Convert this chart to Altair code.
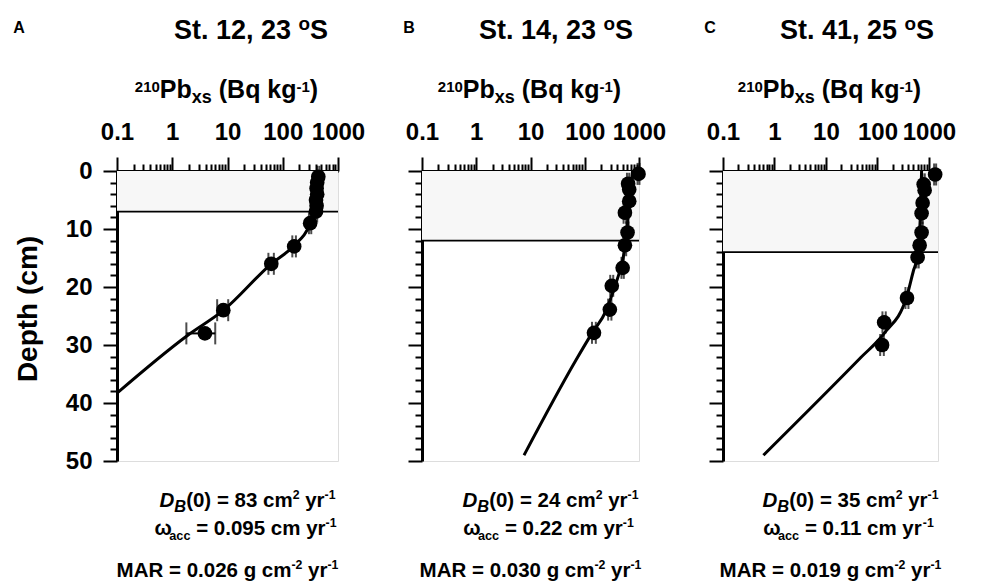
import altair as alt
import pandas as pd

# ---------------- data ----------------
# Panel A: St. 12, 23 oS
A_depth = [1, 2, 3, 4, 5, 6, 7, 9, 13, 16, 24, 28]
A_pb = [440, 420, 410, 420, 400, 410, 400, 313, 161, 62, 8.4, 3.9]
A_err = [20, 20, 20, 20, 20, 20, 20, 15, 12, 7, 1.9, 2.1]
A_line_depth = [38.3, 28.4, 24.0, 16.0, 12.9, 8.9, 5.0, 0.0]
A_line_pb = [0.1, 1.86, 8.5, 62, 158, 316, 380, 405]
A_mix = 7

# Panel B: St. 14, 23 oS
B_depth = [0.5, 2.2, 3.2, 5.2, 7.2, 10.6, 12.8, 16.7, 19.8, 23.9, 27.9]
B_pb = [980, 630, 660, 660, 550, 615, 550, 500, 315, 290, 148]
B_err = [40, 30, 30, 30, 30, 30, 30, 25, 20, 20, 12]
B_line_depth = [49.0, 32.6, 28.0, 24.0, 20.0, 16.0, 12.0, 8.0, 4.0, 0.0]
B_line_pb = [7.6, 69, 135, 250, 355, 480, 575, 630, 690, 760]
B_mix = 12

# Panel C: St. 41, 25 oS
C_depth = [0.6, 2.3, 3.3, 5.5, 7.3, 10.6, 12.8, 14.9, 21.9, 26.1, 30.0]
C_pb = [1320, 790, 825, 754, 720, 720, 660, 603, 375, 135, 123]
C_err = [60, 40, 40, 35, 35, 35, 30, 30, 25, 10, 10]
C_line_depth = [49.0, 32.2, 28.1, 21.6, 17.2, 14.9, 8.0, 0.0]
C_line_pb = [0.61, 47, 132, 372, 500, 590, 680, 720]
C_mix = 14

titles = ["St. 12, 23 ", "St. 14, 23 ", "St. 41, 25 "]
letters = ["A", "B", "C"]
DB_vals = ["83", "24", "35"]
w_vals = ["0.095", "0.22", "0.11"]
MAR_vals = ["0.026", "0.030", "0.019"]

# ---------------- helpers ----------------
FONT = "Liberation Sans"

W = {' ': 278, '(': 333, ')': 333, '-': 333, '.': 278, ',': 278, '=': 584,
     'A': 722, 'B': 722, 'C': 722, 'D': 722, 'M': 833, 'P': 667, 'R': 722, 'S': 667,
     'a': 556, 'b': 611, 'c': 556, 'g': 611, 'k': 556, 'm': 889, 'o': 611, 'q': 611,
     'r': 389, 's': 556, 't': 333, 'x': 556, 'y': 556, 'ω': 720}
for d in "0123456789":
    W[d] = 556

SCALE = {"n": 1.0, "it": 1.0, "sup": 0.6, "sub": 0.62, "itsub": 0.8,
         "asup": 0.6, "asub": 0.72, "tsup": 0.7}
SHIFT = {"n": 0, "it": 0, "sup": -0.38, "sub": 0.24, "itsub": 0.22,
         "asup": -0.25, "asub": 0.2, "tsup": -0.3}


def tw(t, fs):
    return sum(W.get(c, 556) for c in t) / 1000.0 * fs


def rich(segs, cx, base, size, grp):
    """segs: list of (text, role)."""
    meas = [(size * SCALE[r], tw(t, size * SCALE[r])) for t, r in segs]
    total = sum(w for _, w in meas)
    x = cx - total / 2.0
    rows = []
    for (t, r), (fs, w) in zip(segs, meas):
        lead = len(t) - len(t.lstrip(" "))
        rows.append({"px": x + tw(" " * lead, fs), "py": base + SHIFT[r] * size,
                     "txt": t.strip(" "), "fs": fs,
                     "grp": grp + ("_it" if r.startswith("it") else "")})
        x += w
    return rows


def text_layers(rows):
    df = pd.DataFrame(rows)
    layers = []
    for g, sub in df.groupby("grp"):
        style = "italic" if g.endswith("_it") else "normal"
        layers.append(
            alt.Chart(sub).mark_text(align="left", baseline="alphabetic", font=FONT,
                                     fontWeight="bold", fontStyle=style, color="black")
            .encode(x=alt.X("px:Q", scale=None), y=alt.Y("py:Q", scale=None),
                    text="txt:N", size=alt.Size("fs:Q", scale=None, legend=None))
        )
    return layers


major_x = "abs(log(datum.value)/LN10 - round(log(datum.value)/LN10)) < 0.001"
xticks = []
for e in [-1, 0, 1, 2]:
    for m in range(1, 10):
        xticks.append(float(f"{m}e{e}"))
xticks.append(1000.0)


def panel(i, depth, pb, err, ldepth, lpb, mix, xmax, width, height, show_y):
    pts = pd.DataFrame({"depth": depth, "pb": pb,
                        "lo": [p - e for p, e in zip(pb, err)],
                        "hi": [p + e for p, e in zip(pb, err)]})
    line = pd.DataFrame({"depth": ldepth, "pb": lpb})
    mixdf = pd.DataFrame({"top": [0], "mix": [mix]})

    xs = alt.Scale(type="log", domain=[0.1, xmax], nice=False)
    ys = alt.Scale(domain=[0, 50], reverse=True, nice=False)
    xaxis = alt.Axis(orient="top", values=xticks, title=None, grid=False,
                     labelExpr=f"{major_x} ? (datum.value < 1 ? '0.1' : format(datum.value, 'd')) : ''",
                     tickSize={"condition": {"test": major_x, "value": 14}, "value": 7},
                     tickWidth=2, tickColor="black", domainWidth=3, domainColor="black",
                     labelFont=FONT, labelFontWeight="bold", labelFontSize=24,
                     labelColor="black", labelPadding=13, labelOverlap=False, labelFlush=False)
    yaxis = alt.Axis(orient="left", values=list(range(0, 51, 2)), title=None, grid=False,
                     labels=show_y,
                     labelExpr="datum.value % 10 == 0 ? datum.label : ''",
                     tickSize={"condition": {"test": "datum.value % 10 == 0", "value": 14}, "value": 7},
                     tickWidth=2, tickColor="black", domainWidth=3, domainColor="black",
                     labelFont=FONT, labelFontWeight="bold", labelFontSize=24,
                     labelColor="black", labelPadding=11, labelOverlap=False)

    shade = alt.Chart(mixdf).mark_rect(color="#f7f7f7").encode(
        x=alt.value(0), x2=alt.value(width),
        y=alt.Y("top:Q", scale=ys, axis=yaxis), y2="mix:Q")
    mixline = alt.Chart(mixdf).mark_rule(color="black", strokeWidth=1.8).encode(
        x=alt.value(0), x2=alt.value(width), y=alt.Y("mix:Q", scale=ys, axis=yaxis))
    model = alt.Chart(line).mark_line(color="black", strokeWidth=3, interpolate="monotone",
                                      clip=True).encode(
        x=alt.X("pb:Q", scale=xs, axis=xaxis), y=alt.Y("depth:Q", scale=ys, axis=yaxis),
        order="pb:Q")
    ebar = alt.Chart(pts).mark_rule(color="black", strokeWidth=2).encode(
        x=alt.X("lo:Q", scale=xs, axis=xaxis), x2="hi:Q",
        y=alt.Y("depth:Q", scale=ys, axis=yaxis))
    cap_lo = alt.Chart(pts).mark_tick(orient="vertical", size=22, thickness=2, color="black").encode(
        x=alt.X("lo:Q", scale=xs, axis=xaxis), y=alt.Y("depth:Q", scale=ys, axis=yaxis))
    cap_hi = alt.Chart(pts).mark_tick(orient="vertical", size=22, thickness=2, color="black").encode(
        x=alt.X("hi:Q", scale=xs, axis=xaxis), y=alt.Y("depth:Q", scale=ys, axis=yaxis))
    dots = alt.Chart(pts).mark_circle(size=215, color="black", opacity=1).encode(
        x=alt.X("pb:Q", scale=xs, axis=xaxis), y=alt.Y("depth:Q", scale=ys, axis=yaxis))

    rows = []
    lx = -104 if i == 0 else -19
    rows += rich([(letters[i], "n")], lx + 6, -138, 16, "reg")
    rows += rich([(titles[i], "n"), ("o", "tsup"), ("S", "n")], 134, -132.5, 27, "reg")
    rows += rich([("210", "asup"), ("Pb", "n"), ("xs", "asub"), (" (Bq kg", "n"), ("-1", "asup"), (")", "n")],
                 width / 2 - 1, -73, 25, "reg")
    cx = width / 2
    rows += rich([("D", "it"), ("B", "itsub"), ("(0) = " + DB_vals[i] + " cm", "n"), ("2", "sup"),
                  (" yr", "n"), ("-1", "sup")], cx + 20, 336, 20.5, "bot")
    rows += rich([("ω", "n"), ("acc", "sub"), (" = " + w_vals[i] + " cm yr", "n"), ("-1", "sup")],
                 cx + 18, 364, 20.5, "bot")
    rows += rich([("MAR = " + MAR_vals[i] + " g cm", "n"), ("-2", "sup"), (" yr", "n"), ("-1", "sup")],
                 cx, 406, 20.5, "bot")

    layers = [shade, mixline, model, ebar, cap_lo, cap_hi, dots] + text_layers(rows)
    if show_y:
        ttl = alt.Chart(pd.DataFrame({"t": ["Depth (cm)"]})).mark_text(
            angle=270, align="center", baseline="middle", font=FONT, fontWeight="bold",
            fontSize=28, color="black").encode(x=alt.value(-88), y=alt.value(138), text="t:N")
        layers.append(ttl)
    return alt.layer(*layers).properties(width=width, height=height)


pA = panel(0, A_depth, A_pb, A_err, A_line_depth, A_line_pb, A_mix, 1000, 221, 290, True)
pB = panel(1, B_depth, B_pb, B_err, B_line_depth, B_line_pb, B_mix, 1000, 217, 290, False)
pC = panel(2, C_depth, C_pb, C_err, C_line_depth, C_line_pb, C_mix, 1500, 215, 290, False)

chart = alt.hconcat(pA, pB, pC, spacing=84, bounds="flush").properties(
    padding={"left": 4, "top": 6, "right": 0, "bottom": 0}
).configure_view(stroke=None).configure(background="white")

chart.save("out.html", embed_options={"renderer": "svg", "actions": False})
